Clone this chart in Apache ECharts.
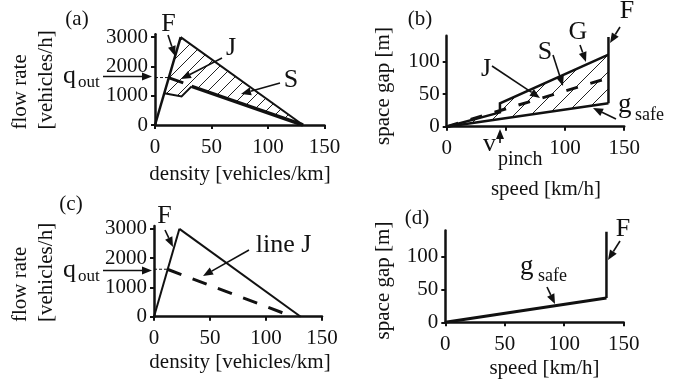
<!DOCTYPE html>
<html><head><meta charset="utf-8">
<script src="https://cdn.jsdelivr.net/npm/echarts@6/dist/echarts.min.js"></script>
<style>html,body{margin:0;padding:0;background:#fff}#c{width:695px;height:388px}</style>
</head><body><div id="c"></div><script>
// ---------- data ----------
const xTickVals = [0, 50, 100, 150];
const flowTickVals = [0, 1000, 2000, 3000];
const gapTickVals = [0, 50, 100];
const speedLabelVals = [0, 100, 150];   // panel (b): 50 hidden by v_pinch
const qOut = 1620;
// panel (a): flow-density
const aFree = [[0, 0], [22.7, 3000]];
const aUpper = [[22.7, 3000], [131, 0]];
const aSLower = [[32.4, 1320], [131, 0]];
const aSLeft = [[8.2, 1085], [23.5, 975], [32.4, 1320]];
const aJ = [[11.9, qOut], [25, 1440]];
const aQ = [[0, qOut], [11.9, qOut]];
const aRegion = [[8.2, 1085], [22.7, 3000], [131, 0], [32.4, 1320], [23.5, 975]];
// panel (b): space gap - speed
const bG = [[0, 0], [45, 22], [45, 36], [136.7, 111]];
const bF = [[136.7, 36], [136.7, 138]];
const bSafe = [[0, 0], [136.7, 36]];
const bJ = [[0, 0], [136.7, 75]];
const bRegion = [[0, 0], [45, 22], [45, 36], [136.7, 111], [136.7, 36]];
// panel (c)
const cFree = [[0, 0], [22.7, 3000]];
const cUpper = [[22.7, 3000], [131, 0]];
const cJ = [[11.9, qOut], [124, 0]];
const cQ = [[0, qOut], [11.9, qOut]];
// panel (d)
const dSafe = [[0, 0], [135.5, 37]];
const dF = [[135.5, 37], [135.5, 138]];

// ---------- helpers ----------
const FF = '"Liberation Serif", "DejaVu Serif", serif';
const INK = '#111';
function hatch(size) {
  const c = document.createElement('canvas');
  c.width = c.height = size;
  const g = c.getContext('2d');
  g.strokeStyle = '#222'; g.lineWidth = 1;
  g.beginPath();
  g.moveTo(0, size); g.lineTo(size, 0);
  g.moveTo(-2, 2); g.lineTo(2, -2);
  g.moveTo(size - 2, size + 2); g.lineTo(size + 2, size - 2);
  g.stroke();
  return c;
}
const patA = hatch(13), patB = hatch(17);
const plain = function (v) { return String(v); };

function xAx(i, labelVals) {
  return {
    type: 'value', gridIndex: i, min: 0, max: 150, interval: 50,
    axisLine: { show: true, onZero: false, lineStyle: { color: INK, width: 2.5 } },
    axisTick: { show: true, length: 4, customValues: xTickVals, lineStyle: { color: INK, width: 2 } },
    axisLabel: { margin: 11.5, fontSize: 21, fontFamily: FF, color: INK, customValues: labelVals, formatter: plain },
    splitLine: { show: false }
  };
}
function yAx(i, max, vals) {
  return {
    type: 'value', gridIndex: i, min: 0, max: max,
    axisLine: { show: true, onZero: false, lineStyle: { color: INK, width: 2.5 } },
    axisTick: { show: true, length: 4, customValues: vals, lineStyle: { color: INK, width: 2 } },
    axisLabel: { margin: 7, fontSize: 21, fontFamily: FF, color: INK, customValues: vals, formatter: plain },
    splitLine: { show: false }
  };
}
function ln(i, data, w, dash) {
  return { type: 'line', xAxisIndex: i, yAxisIndex: i, data: data, symbol: 'none', silent: true, z: 3,
    lineStyle: { color: INK, width: w, type: dash || 'solid', cap: 'butt', join: 'miter' } };
}
function region(i, pts, pat) {
  return { type: 'custom', xAxisIndex: i, yAxisIndex: i, data: [[0, 0]], silent: true, z: 1,
    renderItem: function (p, api) {
      return { type: 'polygon', shape: { points: pts.map(function (q) { return api.coord(q); }) },
        style: { fill: { image: pat, repeat: 'repeat' }, stroke: null } };
    } };
}
function arrow(x1, y1, x2, y2) {
  const hl = 10, hw = 4;
  const a = Math.atan2(y2 - y1, x2 - x1);
  const bx = x2 - hl * Math.cos(a), by = y2 - hl * Math.sin(a);
  const px = -Math.sin(a) * hw, py = Math.cos(a) * hw;
  return [
    { type: 'line', shape: { x1: x1, y1: y1, x2: bx, y2: by }, style: { stroke: INK, lineWidth: 1.6 }, z: 10 },
    { type: 'polygon', shape: { points: [[x2, y2], [bx + px, by + py], [bx - px, by - py]] }, style: { fill: INK }, z: 10 }
  ];
}
function txt(s, x, y, size, align, extra) {
  return Object.assign({ type: 'text', x: x, y: y, z: 10,
    style: { text: s, fontSize: size, fontFamily: FF, fill: INK, align: align || 'center', verticalAlign: 'middle' } }, extra || {});
}
function rtxt(s, x, y, align, vAlign) {
  return { type: 'text', x: x, y: y, rotation: Math.PI / 2, z: 10,
    style: { text: s, fontSize: 21, fontFamily: FF, fill: INK, align: align, verticalAlign: vAlign, lineHeight: 26 } };
}

const elements = [].concat(
  // (a)
  txt('(a)', 77, 19, 21), txt('F', 168.5, 24, 26), txt('J', 231, 48, 26), txt('S', 291, 80, 26),
  txt('q', 63, 76.4, 26, 'left'), txt('out', 78, 82.5, 17, 'left'),
  arrow(168, 35, 175, 56), arrow(222, 58, 181, 79), arrow(280, 83, 241, 94), arrow(103, 76.5, 152, 76.5),
  rtxt('flow rate\n[vehicles/h]', 7, 129.5, 'left', 'top'),
  txt('density [vehicles/km]', 240, 174, 21),
  // (b)
  txt('(b)', 420, 19, 21), txt('G', 578, 32, 26), txt('F', 627, 11, 26), txt('S', 545, 52, 26), txt('J', 486, 69, 26),
  txt('g', 618, 105, 27, 'left'), txt('safe', 635, 115.6, 18, 'left'),
  txt('v', 483, 144, 26, 'left'), txt('pinch', 498, 159.4, 20, 'left'),
  arrow(580, 45, 586, 62), arrow(620, 27, 610, 43), arrow(553, 55, 563, 86), arrow(492, 66, 540, 98),
  arrow(616, 119, 593, 108), arrow(500, 143, 500, 129),
  rtxt('space gap [m]', 383, 86, 'center', 'middle'),
  txt('speed [km/h]', 546, 189, 21),
  // (c)
  txt('(c)', 71, 204, 21), txt('F', 164.5, 216.5, 26), txt('line J', 283.5, 245, 26),
  txt('q', 63, 270.4, 26, 'left'), txt('out', 78, 276.5, 17, 'left'),
  arrow(165, 230, 173, 247), arrow(249, 250, 203, 276), arrow(103, 270.5, 152, 270.5),
  rtxt('flow rate\n[vehicles/h]', 7, 322, 'left', 'top'),
  txt('density [vehicles/km]', 240, 362, 21),
  // (d)
  txt('(d)', 417, 218, 21), txt('F', 623, 229, 26),
  txt('g', 520, 267, 27, 'left'), txt('safe', 538, 276, 18, 'left'),
  arrow(620, 241, 608, 260), arrow(547, 287, 555, 304),
  rtxt('space gap [m]', 383, 280.5, 'center', 'middle'),
  txt('speed [km/h]', 544.5, 368, 21)
);

const chart = echarts.init(document.getElementById('c'), null, { renderer: 'canvas' });
chart.setOption({
  animation: false,
  backgroundColor: '#fff',
  grid: [
    { left: 155, top: 34.2, width: 169.5, height: 90.8 },
    { left: 446.7, top: 35.7, width: 177.5, height: 91 },
    { left: 154, top: 225.9, width: 168, height: 90.8 },
    { left: 445.3, top: 230.5, width: 178.4, height: 91.8 }
  ],
  xAxis: [xAx(0, xTickVals), xAx(1, speedLabelVals), xAx(2, xTickVals), xAx(3, xTickVals)],
  yAxis: [yAx(0, 3100, flowTickVals), yAx(1, 140, gapTickVals), yAx(2, 3100, flowTickVals), yAx(3, 140, gapTickVals)],
  series: [
    region(0, aRegion, patA),
    ln(0, aFree, 2.5), ln(0, aUpper, 2), ln(0, aSLower, 3.5), ln(0, aSLeft, 2), ln(0, aJ, 3), ln(0, aQ, 1, [3, 2]),
    region(1, bRegion, patB),
    ln(1, bG, 2.5), ln(1, bF, 2.5), ln(1, bSafe, 2.5), ln(1, bJ, 3, [12, 13]),
    ln(2, cFree, 2), ln(2, cUpper, 2), ln(2, cJ, 3, [15, 12]), ln(2, cQ, 1, [3, 2]),
    ln(3, dSafe, 3), ln(3, dF, 2.5)
  ],
  graphic: { elements: elements }
});
</script></body></html>
